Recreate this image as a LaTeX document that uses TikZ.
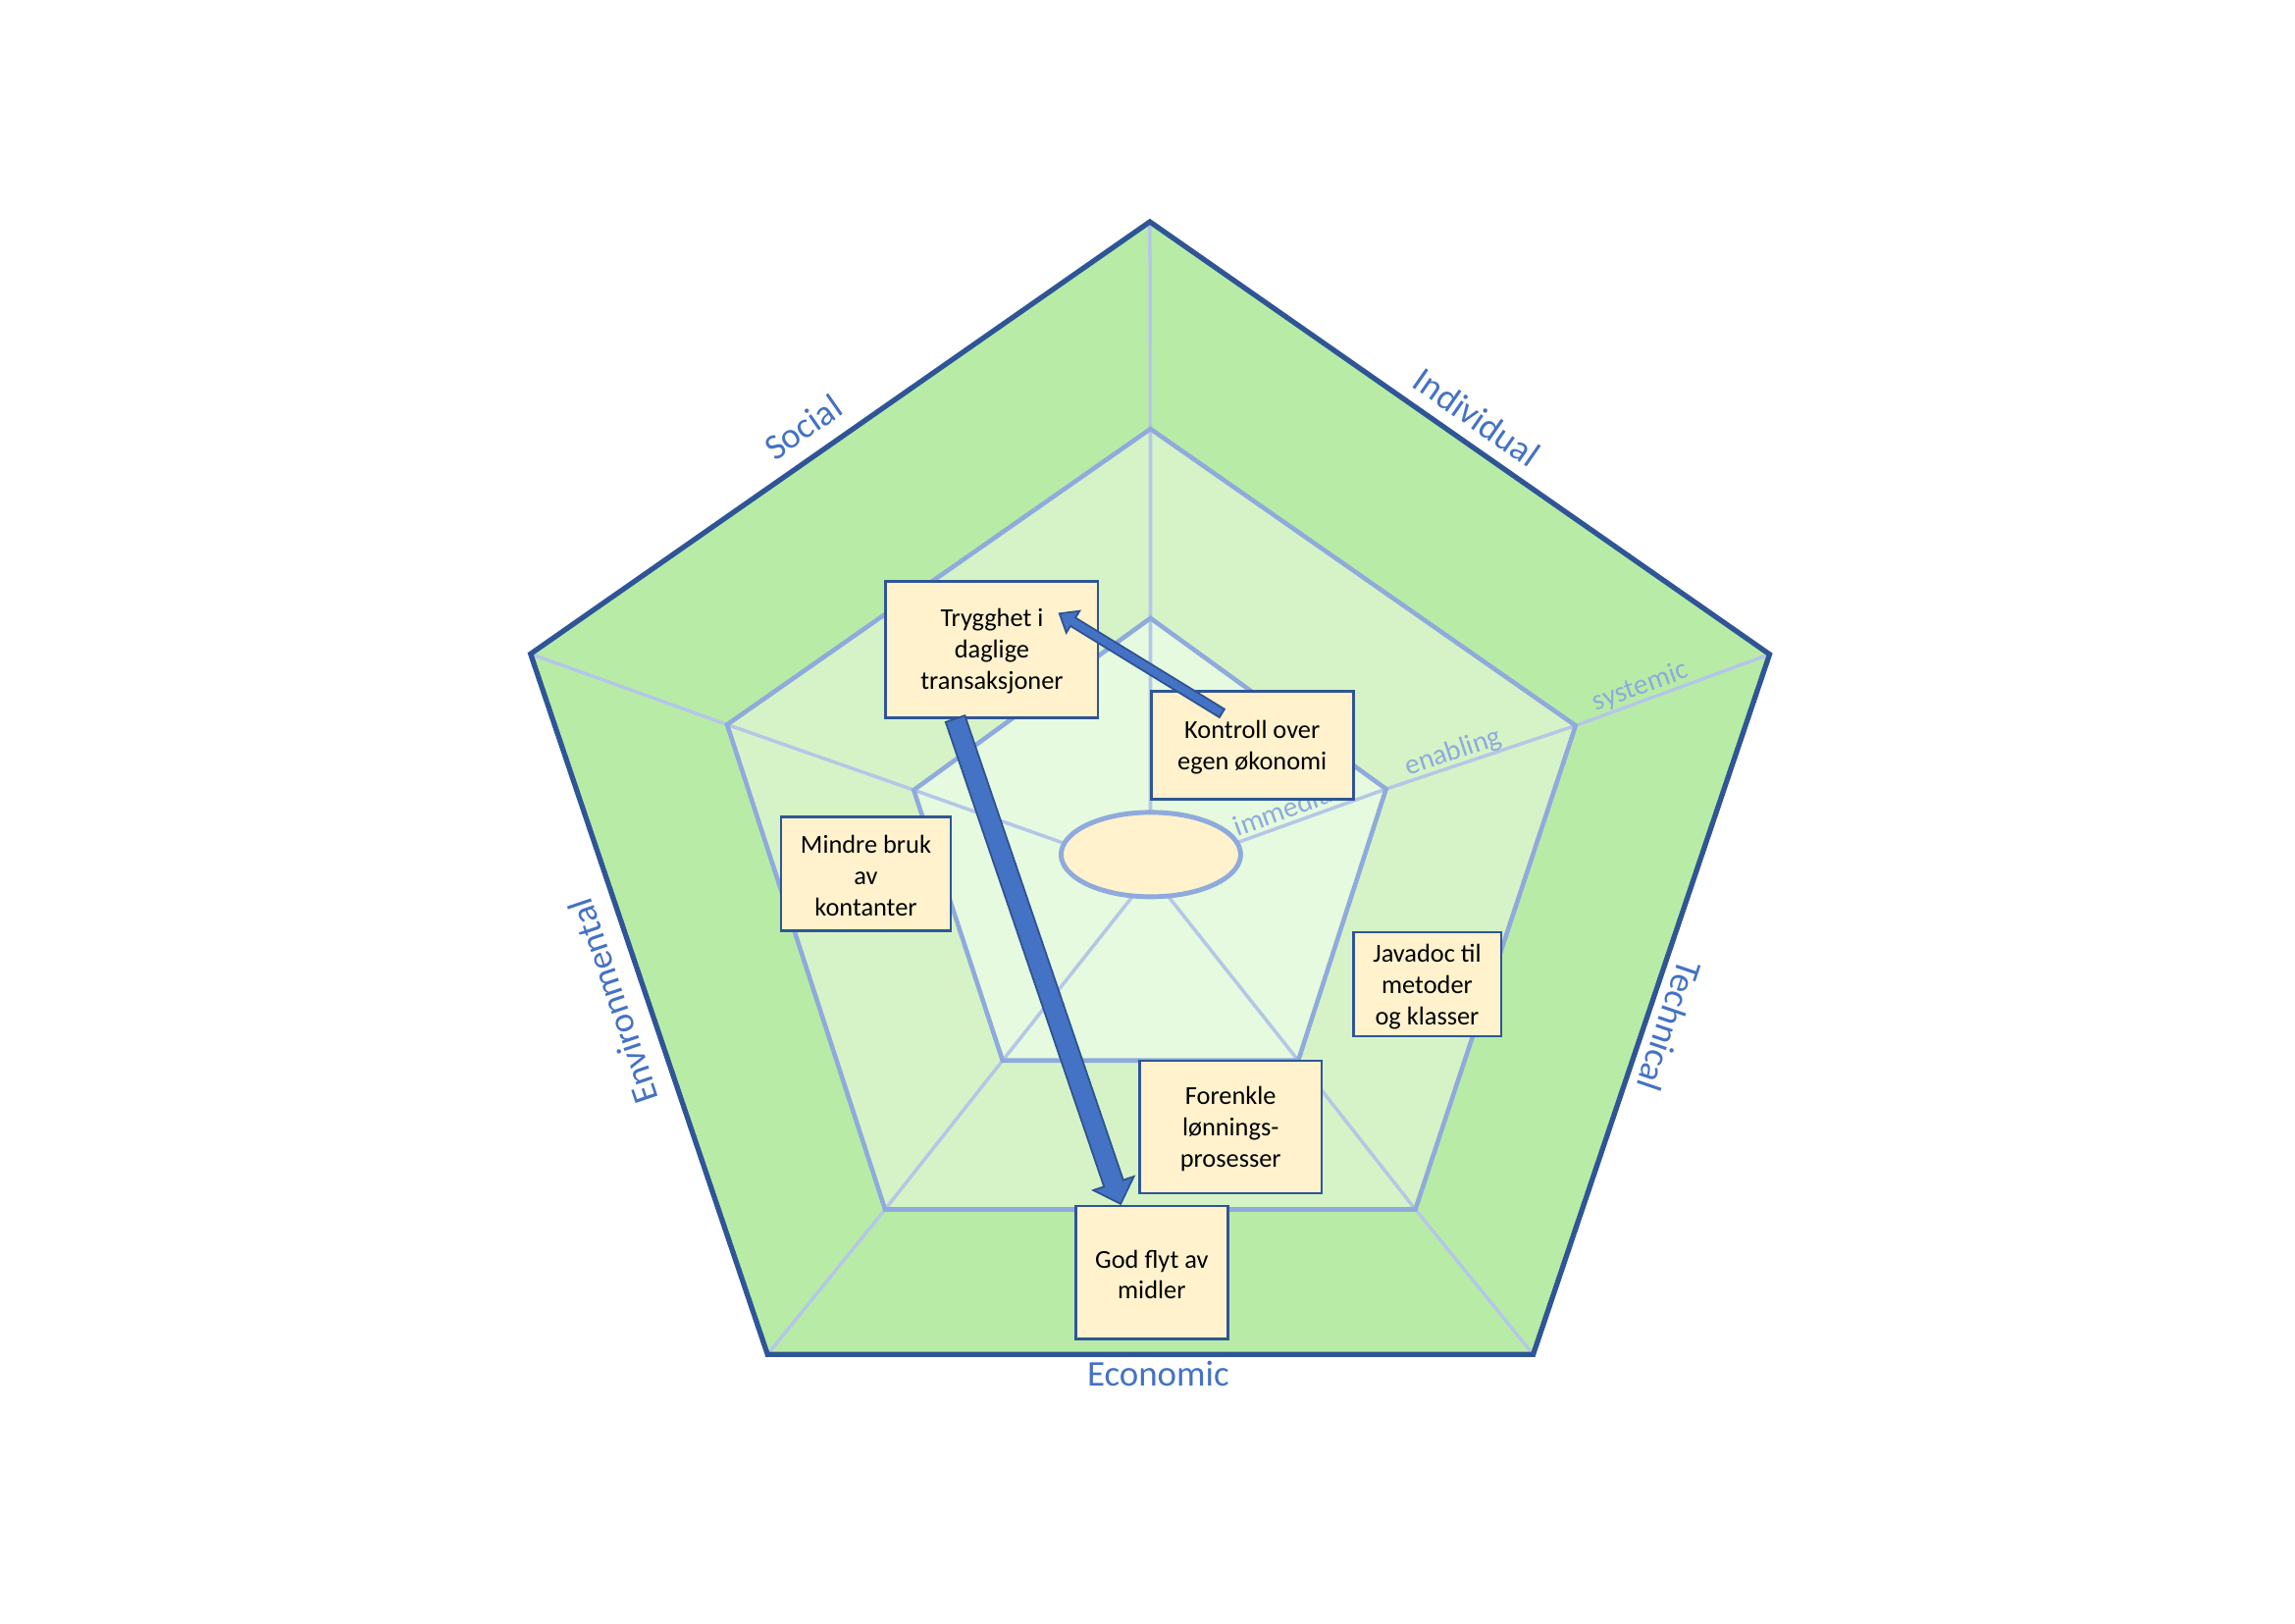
\documentclass[tikz,border=0pt]{standalone}
\usepackage{fontspec}
\setmainfont{Carlito}
\usetikzlibrary{arrows.meta,calc,fit,shapes.geometric}
\definecolor{ringA}{RGB}{184,236,166}
\definecolor{ringB}{RGB}{214,243,199}
\definecolor{ringC}{RGB}{229,250,223}
\definecolor{edgeDark}{RGB}{47,85,151}
\definecolor{edgeMid}{RGB}{143,170,220}
\definecolor{spokeC}{RGB}{180,199,231}
\definecolor{boxFill}{RGB}{255,242,204}
\definecolor{arrowBlue}{RGB}{68,114,196}
\definecolor{arrowEdge}{RGB}{47,82,143}
\definecolor{labelBlue}{RGB}{68,114,196}
\definecolor{levelC}{RGB}{143,170,220}
\begin{document}
\begin{tikzpicture}[x=0.14917mm,y=-0.14917mm,
  box/.style={draw=edgeDark, line width=0.8pt, fill=boxFill, inner sep=0pt},
  boxtext/.style={inner sep=0pt, align=center, font=\fontsize{7.5}{9.1}\selectfont},
  ringedge/.style={line width=1.3pt, draw=edgeMid, line join=miter},
  outeredge/.style={line width=1.5pt, draw=edgeDark, line join=miter},
  spokeline/.style={line width=1pt, draw=spokeC},
  dimlabel/.style={text=labelBlue, font=\fontsize{10.5}{12.6}\selectfont, inner sep=0pt},
  levellabel/.style={text=levelC, font=\fontsize{8.3}{10}\selectfont, inner sep=0pt, anchor=base},
  blockarrow/.style={fill=arrowBlue, draw=arrowEdge, line width=0.5pt, line join=miter}
]
\useasboundingbox (0,0) rectangle (1568,1109);

% vertices
\coordinate (O1) at (785.6,151.5);
\coordinate (O2) at (1209,447);
\coordinate (O3) at (1047.5,925.3);
\coordinate (O4) at (524.4,925.3);
\coordinate (O5) at (362.5,446.7);
\coordinate (M1) at (786,293);
\coordinate (M2) at (1076.5,495.7);
\coordinate (M3) at (967,826.2);
\coordinate (M4) at (604.7,826.2);
\coordinate (M5) at (496.8,495);
\coordinate (I1) at (786,422.3);
\coordinate (I2) at (947,539);
\coordinate (I3) at (887,724.5);
\coordinate (I4) at (685,724.5);
\coordinate (I5) at (624.3,539.7);
\coordinate (C) at (786,597);

% rings
\fill[ringA] (O1) -- (O2) -- (O3) -- (O4) -- (O5) -- cycle;
\fill[ringB] (M1) -- (M2) -- (M3) -- (M4) -- (M5) -- cycle;
\fill[ringC] (I1) -- (I2) -- (I3) -- (I4) -- (I5) -- cycle;

% spokes
\draw[spokeline] (O1) -- (M1) -- (I1) -- (C);
\draw[spokeline] (O2) -- (M2) -- (I2) -- (C);
\draw[spokeline] (O3) -- (M3) -- (I3) -- (C);
\draw[spokeline] (O4) -- (M4) -- (I4) -- (C);
\draw[spokeline] (O5) -- (M5) -- (I5) -- (C);

% ring edges
\draw[ringedge] (M1) -- (M2) -- (M3) -- (M4) -- (M5) -- cycle;
\draw[ringedge] (I1) -- (I2) -- (I3) -- (I4) -- (I5) -- cycle;
\draw[outeredge] (O1) -- (O2) -- (O3) -- (O4) -- (O5) -- cycle;

% level labels
\node[levellabel, rotate=20] (lsys) at (1122.5,474) {systemic};
\node[levellabel, rotate=18.5] (lena) at (994.5,519) {enabling};
\node[levellabel, rotate=20] (limm) at (886,557) {immediate};

% dimension labels
\node[dimlabel, rotate=34.9] (social) at (548.6,291.9) {Social};
\node[dimlabel, rotate=-34.9] (indiv) at (1009,285) {Individual};
\node[dimlabel, rotate=-108.7] (techn) at (1140.5,701) {Technical};
\node[dimlabel, rotate=108.6] (envir) at (419,684) {Environmental};
\node[dimlabel] (econ) at (791.3,938.5) {Economic};

% hub
\node[ellipse, draw=edgeMid, line width=1.4pt, fill=boxFill, minimum width=18.3mm, minimum height=8.6mm, inner sep=0pt] (hub) at (786.3,583.8) {};

% boxes
\node[box, fit={(605.2,397.1) (750.2,490.1)}] (tryg) {};
\node[boxtext] (trygtext) at ($(tryg.center)+(0,1.5)$) {Trygghet i\\daglige\\transaksjoner};
\node[box, fit={(786.6,472) (924.5,545.9)}] (kont) {};
\node[boxtext] (konttext) at ($(kont.center)+(0,1.5)$) {Kontroll over\\egen økonomi};
\node[box, fit={(533.6,558) (649.6,636)}] (mindre) {};
\node[boxtext] (mindretext) at ($(mindre.center)+(0,1.5)$) {Mindre bruk\\av\\kontanter};
\node[box, fit={(924.5,636.9) (1025.6,707.9)}] (java) {};
\node[boxtext] (javatext) at ($(java.center)+(0,1.5)$) {Javadoc til\\metoder\\og klasser};
\node[box, fit={(778.6,724.7) (903,815.2)}] (foren) {};
\node[boxtext] (forentext) at ($(foren.center)+(0,1.5)$) {Forenkle\\lønnings-\\prosesser};
\node[box, fit={(734.8,823.9) (839,914.6)}] (god) {};
\node[boxtext] (godtext) at ($(god.center)+(0,1.5)$) {God flyt av\\midler};

% arrows (block arrows from node to node)
\coordinate (a1) at ($(tryg.south west)+(48.4,0)$);
\coordinate (a2) at ($(god.north west)+(31.8,-0.5)$);
\coordinate (ah) at ($(a2)!6.3pt!(a1)$);
\filldraw[blockarrow] ($(a1)!2.95pt!90:(a2)$) -- ($(ah)!2.95pt!90:(a2)$) -- ($(ah)!6.2pt!90:(a2)$) -- (a2)
  -- ($(ah)!6.2pt!-90:(a2)$) -- ($(ah)!2.95pt!-90:(a2)$) -- ($(a1)!2.95pt!-90:(a2)$) -- cycle;
\coordinate (b1) at ($(kont.north west)+(49.2,16.2)$);
\coordinate (b2) at ($(tryg.north east)+(-27.3,23)$);
\coordinate (bh) at ($(b2)!4.6pt!(b1)$);
\filldraw[blockarrow] ($(b1)!1.4pt!90:(b2)$) -- ($(bh)!1.4pt!90:(b2)$) -- ($(bh)!3.7pt!90:(b2)$) -- (b2)
  -- ($(bh)!3.7pt!-90:(b2)$) -- ($(bh)!1.4pt!-90:(b2)$) -- ($(b1)!1.4pt!-90:(b2)$) -- cycle;
\end{tikzpicture}
\end{document}
